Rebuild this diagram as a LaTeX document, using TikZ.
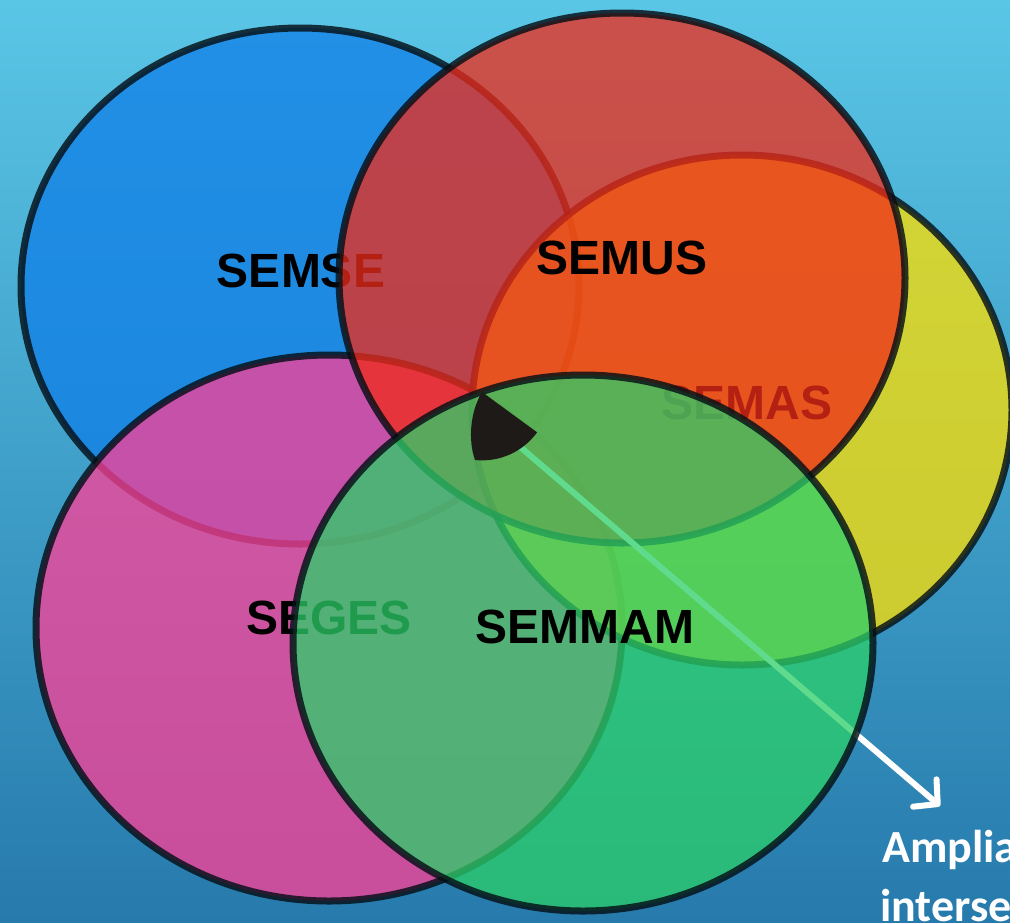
\documentclass[tikz,border=0pt]{standalone}
\usepackage{fontspec}
\setmainfont{Liberation Sans}
\newfontfamily\carlito{Carlito}
\usetikzlibrary{arrows.meta}
\definecolor{bgtop}{RGB}{90,198,230}
\definecolor{bgbot}{RGB}{38,122,172}
\definecolor{cblue}{RGB}{16,127,231}
\definecolor{cred}{RGB}{241,43,24}
\definecolor{cyellow}{RGB}{255,223,0}
\definecolor{cpink}{RGB}{255,63,150}
\definecolor{cgreen}{RGB}{43,208,105}
\definecolor{wedgecol}{RGB}{30,26,23}
\definecolor{edge}{RGB}{5,15,22}
\begin{document}
\begin{tikzpicture}[x=1pt,y=-1pt,
  setshape/.style={line width=7pt, draw=edge, fill opacity=0.75, draw opacity=0.82},
  lbl/.style={font=\fontsize{48}{56}\selectfont\bfseries, text=black, anchor=base, inner sep=0pt},
  note/.style={font=\carlito\fontsize{46}{56}\selectfont\bfseries, text=white, anchor=base west, inner sep=0pt}]
\useasboundingbox (0,0) rectangle (1010,922);
\clip (0,0) rectangle (1010,922);
\shade[top color=bgtop, bottom color=bgbot] (0,0) rectangle (1010,922);
% blue set
\path[setshape, fill=cblue] (300,286) ellipse [x radius=279, y radius=258];
\node[lbl] (semse) at (301,287) {SEMSE};
% pink set
\path[setshape, fill=cpink] (329,628) ellipse [x radius=293, y radius=273];
\node[lbl] (seges) at (329,634) {SEGES};
% yellow set
\path[setshape, fill=cyellow] (742,410) ellipse [x radius=270, y radius=255];
\node[lbl] (semas) at (747,419) {SEMAS};
% red set
\path[setshape, fill=cred] (622,278) ellipse [x radius=283, y radius=265];
\node[lbl] (semus) at (622,274) {SEMUS};
% arrow (under green)
\coordinate (start) at (505,434);
\coordinate (tip) at (940,806);
\draw[white, line width=6pt, line cap=round, -{Straight Barb[length=17pt,width=36pt,round]}] (start) -- (tip);
% green set
\path[setshape, fill=cgreen] (583,643) ellipse [x radius=290, y radius=268];
\node[lbl] (semmam) at (585,643) {SEMMAM};
% wedge
\coordinate (apex) at (482,392);
\coordinate (wl) at (475,460);
\coordinate (wr) at (537,432);
\fill[wedgecol] (apex) .. controls (470,412) and (468,440) .. (wl)
  arc[start angle=96, end angle=36, radius=68] -- cycle;
% note text
\node[note] (amp) at (882,862) {Amplia};
\node[note] (inter) at (880,921) {interse};
\end{tikzpicture}
\end{document}
